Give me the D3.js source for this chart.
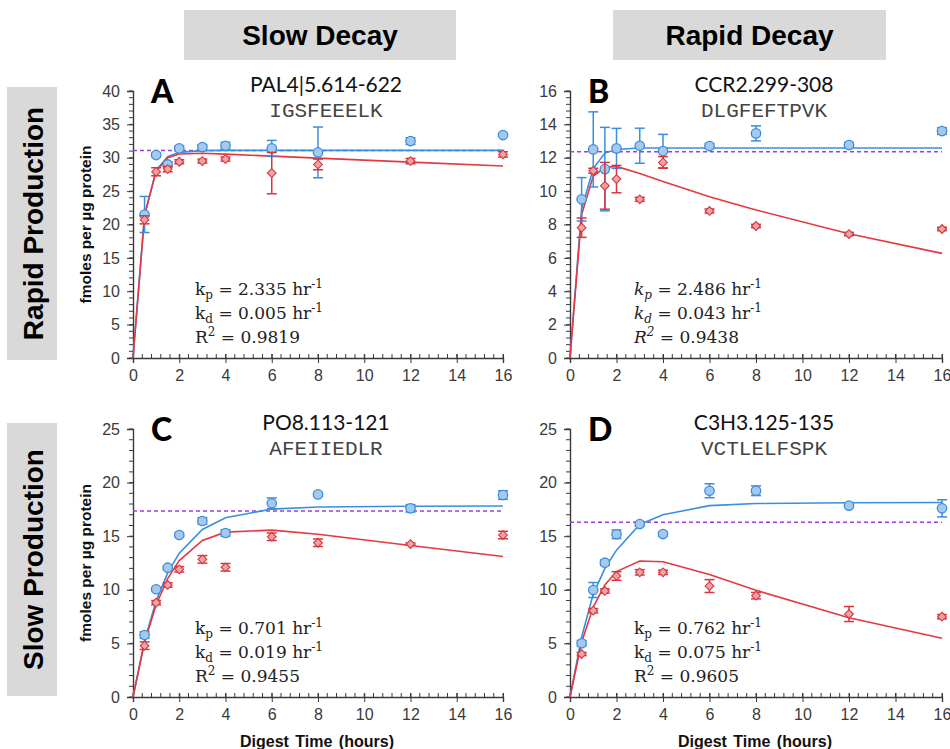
<!DOCTYPE html>
<html>
<head>
<meta charset="utf-8">
<script src="https://cdn.jsdelivr.net/npm/d3@7"></script>
<style>
  body { margin: 0; background: #fff; }
  svg { display: block; }
</style>
</head>
<body>
<svg id="chart" width="950" height="749"></svg>
<script>
// ---- data ----------------------------------------------------------------
const hours = [0.5, 1, 1.5, 2, 3, 4, 6, 8, 12, 16];
const fitHours = [0, 0.5, 1, 1.5, 2, 3, 4, 6, 8, 12, 16];

const panelLetters = ["A", "B", "C", "D"];
const peptideNames = ["PAL4|5.614-622", "CCR2.299-308", "PO8.113-121", "C3H3.125-135"];
const peptideSequences = ["IGSFEEELK", "DLGFEFTPVK", "AFEIIEDLR", "VCTLELFSPK"];
const kpValues = ["2.335", "2.486", "0.701", "0.762"];
const kdValues = ["0.005", "0.043", "0.019", "0.075"];
const r2Values = ["0.9819", "0.9438", "0.9455", "0.9605"];
const yMaxima = [40, 16, 25, 25];
const yMajorSteps = [5, 2, 5, 5];
const plateauLevels = [31.1, 12.36, 17.35, 16.3];
const xTickValues = [0, 2, 4, 6, 8, 10, 12, 14, 16];
const columnHeaders = ["Slow Decay", "Rapid Decay"];
const rowHeaders = ["Rapid Production", "Slow Production"];

// production only (blue circles) and production with decay (red diamonds)
const prodMeanA = [21.5, 30.4, 29.0, 31.4, 31.6, 31.8, 31.4, 30.8, 32.5, 33.4];
const prodErrA  = [2.7, 0.3, 0.4, 0.35, 0.35, 0.5, 1.2, 3.8, 0.5, 0.2];
const measMeanA = [20.7, 27.9, 28.3, 29.4, 29.5, 29.8, 27.7, 29.0, 29.5, 30.5];
const measErrA  = [0.6, 0.6, 0.4, 0.3, 0.3, 0.3, 3.1, 0.8, 0.4, 0.4];
const prodFitA  = [0, 21.42, 28.09, 30.16, 30.81, 31.07, 31.1, 31.1, 31.1, 31.1, 31.1];
const measFitA  = [0, 21.39, 27.99, 30.0, 30.56, 30.67, 30.55, 30.24, 29.95, 29.35, 28.77];

const prodMeanB = [9.51, 12.5, 11.32, 12.56, 12.72, 12.4, 12.7, 13.46, 12.76, 13.6];
const prodErrB  = [1.3, 2.25, 2.5, 1.2, 1.05, 1.0, 0.15, 0.45, 0.15, 0.2];
const measMeanB = [7.81, 11.22, 10.32, 10.72, 9.51, 11.72, 8.81, 7.91, 7.43, 7.73];
const measErrB  = [0.58, 0.15, 1.4, 0.82, 0.12, 0.35, 0.12, 0.1, 0.1, 0.1];
const prodFitB  = [0, 8.95, 11.35, 12.28, 12.49, 12.58, 12.58, 12.58, 12.58, 12.58, 12.58];
const measFitB  = [0, 8.6, 10.9, 11.42, 11.48, 11.05, 10.58, 9.66, 8.87, 7.44, 6.27];

const prodMeanC = [5.78, 10.05, 12.06, 15.11, 16.42, 15.3, 18.07, 18.9, 17.6, 18.84];
const prodErrC  = [0.3, 0.15, 0.15, 0.15, 0.3, 0.3, 0.5, 0.15, 0.35, 0.4];
const measMeanC = [4.79, 8.8, 10.45, 11.91, 12.84, 12.1, 14.95, 14.39, 14.27, 15.11];
const measErrC  = [0.35, 0.2, 0.2, 0.25, 0.35, 0.35, 0.35, 0.35, 0.1, 0.35];
const prodFitC  = [0, 5.26, 8.97, 11.58, 13.42, 15.63, 16.72, 17.53, 17.73, 17.8, 17.82];
const measFitC  = [0, 5.08, 8.61, 11.05, 12.72, 14.6, 15.38, 15.57, 15.18, 14.13, 13.1];

const prodMeanD = [5.01, 9.98, 12.53, 15.18, 16.14, 15.2, 19.24, 19.24, 17.85, 17.6];
const prodErrD  = [0.25, 0.7, 0.25, 0.4, 0.2, 0.2, 0.65, 0.45, 0.15, 0.8];
const measMeanD = [4.01, 8.05, 9.89, 11.29, 11.63, 11.63, 10.35, 9.45, 7.74, 7.49];
const measErrD  = [0.15, 0.2, 0.2, 0.4, 0.25, 0.2, 0.6, 0.3, 0.7, 0.2];
const prodFitD  = [0, 5.6, 9.6, 12.0, 13.7, 16.1, 17.0, 17.85, 18.05, 18.12, 18.15];
const measFitD  = [0, 5.1, 8.39, 10.46, 11.7, 12.68, 12.62, 11.42, 9.95, 7.4, 5.48];

const prodMeans = [prodMeanA, prodMeanB, prodMeanC, prodMeanD];
const prodErrs  = [prodErrA, prodErrB, prodErrC, prodErrD];
const measMeans = [measMeanA, measMeanB, measMeanC, measMeanD];
const measErrs  = [measErrA, measErrB, measErrC, measErrD];
const prodFits  = [prodFitA, prodFitB, prodFitC, prodFitD];
const measFits  = [measFitA, measFitB, measFitC, measFitD];

// ---- layout & style -------------------------------------------------------
const frames = [
  { left: 133, right: 503, top: 91,  bottom: 358 },
  { left: 570, right: 942, top: 91,  bottom: 358 },
  { left: 133, right: 503, top: 429, bottom: 697 },
  { left: 570, right: 942, top: 429, bottom: 697 }
];
const italicStats = [false, true, false, false];

const COL = {
  prodLine: "#3a8ee0", prodFill: "#a6c8ea", prodStroke: "#3a8ee0",
  measLine: "#e4383e", measFill: "#eca4a6", measStroke: "#d8363e",
  plateau: "#9b40d8", axis: "#3a3a3a", tickText: "#3a3a3a", header: "#d9d9d9"
};
const SANS = "'Liberation Sans', Arial, sans-serif";
const SERIF = "'DejaVu Serif', 'Liberation Serif', serif";
const MONO = "'Liberation Mono', 'Courier New', monospace";
const HUMAN = "Lato, 'Open Sans', sans-serif";

const svg = d3.select("#chart");
svg.append("rect").attr("width", 950).attr("height", 749).attr("fill", "#fff");

// column and row headers
const colBoxes = [{ x: 184, w: 272 }, { x: 613, w: 273 }];
columnHeaders.forEach((label, i) => {
  const b = colBoxes[i];
  svg.append("rect").attr("x", b.x).attr("y", 10).attr("width", b.w).attr("height", 50)
    .attr("fill", COL.header);
  svg.append("text").attr("x", b.x + b.w / 2).attr("y", 45)
    .attr("text-anchor", "middle").attr("font-family", SANS).attr("font-weight", "bold")
    .attr("font-size", 28).attr("fill", "#000").text(label);
});
const rowBoxes = [{ y: 87, h: 273 }, { y: 423, h: 273 }];
rowHeaders.forEach((label, i) => {
  const b = rowBoxes[i];
  svg.append("rect").attr("x", 7).attr("y", b.y).attr("width", 50).attr("height", b.h)
    .attr("fill", COL.header);
  svg.append("text")
    .attr("transform", `translate(43,${b.y + b.h / 2}) rotate(-90)`)
    .attr("text-anchor", "middle").attr("font-family", SANS).attr("font-weight", "bold")
    .attr("font-size", 28).attr("fill", "#000").text(label);
});

// ---- panels --------------------------------------------------------------
frames.forEach((f, i) => {
  const x = d3.scaleLinear().domain([0, 16]).range([f.left, f.right]);
  const y = d3.scaleLinear().domain([0, yMaxima[i]]).range([f.bottom, f.top]);
  const g = svg.append("g");

  // minor ticks
  const xMinor = d3.range(0, 16.0001, 0.4);
  g.append("g").selectAll("line").data(xMinor).join("line")
    .attr("x1", d => x(d)).attr("x2", d => x(d))
    .attr("y1", f.bottom - 4).attr("y2", f.bottom)
    .attr("stroke", COL.axis).attr("stroke-width", 1);
  const yMinorStep = yMajorSteps[i] / 5;
  const yMinor = d3.range(0, yMaxima[i] + 1e-6, yMinorStep);
  g.append("g").selectAll("line").data(yMinor).join("line")
    .attr("x1", f.left - 4).attr("x2", f.left)
    .attr("y1", d => y(d)).attr("y2", d => y(d))
    .attr("stroke", COL.axis).attr("stroke-width", 1);

  // major axes
  const xAxis = d3.axisBottom(x).tickValues(xTickValues).tickSize(5).tickPadding(7)
    .tickFormat(d3.format("d"));
  const gx = g.append("g").attr("transform", `translate(0,${f.bottom})`).call(xAxis);
  const yAxis = d3.axisLeft(y).tickValues(d3.range(0, yMaxima[i] + 1e-6, yMajorSteps[i]))
    .tickSize(6).tickPadding(7).tickFormat(d3.format("d"));
  const gy = g.append("g").attr("transform", `translate(${f.left},0)`).call(yAxis);
  [gx, gy].forEach(a => {
    a.select(".domain").attr("stroke", COL.axis).attr("stroke-width", 1.4);
    a.selectAll(".tick line").attr("stroke", COL.axis).attr("stroke-width", 1);
    a.selectAll(".tick text").attr("font-family", SANS).attr("font-size", 16)
      .attr("fill", COL.tickText);
  });
  gx.selectAll(".tick line").attr("y1", -4).attr("y2", 5);

  // plateau reference line
  g.append("line")
    .attr("x1", x(0)).attr("x2", x(16))
    .attr("y1", y(plateauLevels[i])).attr("y2", y(plateauLevels[i]))
    .attr("stroke", COL.plateau).attr("stroke-width", 1.5).attr("stroke-dasharray", "4,3");

  // fitted curves
  const line = d3.line().x(d => x(d[0])).y(d => y(d[1]));
  g.append("path").datum(fitHours.map((h, k) => [h, prodFits[i][k]]))
    .attr("d", line).attr("fill", "none").attr("stroke", COL.prodLine).attr("stroke-width", 1.6);
  g.append("path").datum(fitHours.map((h, k) => [h, measFits[i][k]]))
    .attr("d", line).attr("fill", "none").attr("stroke", COL.measLine).attr("stroke-width", 1.6);

  // error bars
  function errorBars(means, errs, color) {
    const data = hours.map((h, k) => ({ h, m: means[k], e: errs[k] }));
    const eg = g.append("g").attr("stroke", color).attr("stroke-width", 1.5);
    eg.selectAll("line.v").data(data).join("line").attr("class", "v")
      .attr("x1", d => x(d.h)).attr("x2", d => x(d.h))
      .attr("y1", d => y(d.m - d.e)).attr("y2", d => y(d.m + d.e));
    ["lo", "hi"].forEach(side => {
      eg.selectAll("line." + side).data(data).join("line").attr("class", side)
        .attr("x1", d => x(d.h) - 5).attr("x2", d => x(d.h) + 5)
        .attr("y1", d => y(side === "lo" ? d.m - d.e : d.m + d.e))
        .attr("y2", d => y(side === "lo" ? d.m - d.e : d.m + d.e));
    });
  }
  errorBars(prodMeans[i], prodErrs[i], COL.prodStroke);
  g.append("g").selectAll("circle").data(hours.map((h, k) => [h, prodMeans[i][k]])).join("circle")
    .attr("cx", d => x(d[0])).attr("cy", d => y(d[1])).attr("r", 4.7)
    .attr("fill", COL.prodFill).attr("stroke", COL.prodStroke).attr("stroke-width", 1.3);

  errorBars(measMeans[i], measErrs[i], COL.measStroke);
  // square marker turned 45 degrees gives an even diamond
  const diamond = d3.symbol().type(d3.symbolSquare).size(38);
  g.append("g").selectAll("path").data(hours.map((h, k) => [h, measMeans[i][k]])).join("path")
    .attr("transform", d => `translate(${x(d[0])},${y(d[1])}) rotate(45)`).attr("d", diamond)
    .attr("fill", COL.measFill).attr("stroke", COL.measStroke).attr("stroke-width", 1.1);

  // panel letter, peptide name, sequence
  g.append("text").attr("x", f.left + 18).attr("y", f.top + 12)
    .attr("font-family", HUMAN).attr("font-weight", 900).attr("font-size", 32)
    .attr("fill", "#000").text(panelLetters[i]);
  const cx = (f.left + f.right) / 2 + 8;
  g.append("text").attr("x", cx).attr("y", f.top + 1).attr("text-anchor", "middle")
    .attr("font-family", HUMAN).attr("font-size", 21).attr("fill", "#111").text(peptideNames[i]);
  g.append("text").attr("x", cx).attr("y", f.top + 26).attr("text-anchor", "middle")
    .attr("font-family", MONO).attr("font-size", 21).attr("fill", "#444").text(peptideSequences[i]);

  // rate constants and fit quality
  const sx = f.left + 62 + (i % 2 === 1 ? 2 : 0);
  const sy = f.bottom - 63;
  const ital = italicStats[i] ? "italic" : "normal";
  function statLine(row, sym, sub, sup, rest, unit) {
    const t = g.append("text").attr("x", sx).attr("y", sy + row * 24)
      .attr("font-family", SERIF).attr("font-size", 17).attr("fill", "#222");
    t.append("tspan").attr("font-style", ital).text(sym);
    if (sub) {
      t.append("tspan").attr("font-style", ital).attr("font-size", 12).attr("dy", 4).text(sub);
      t.append("tspan").attr("dy", -4).text(" = " + rest);
    } else {
      t.append("tspan").attr("font-style", ital).attr("font-size", 12).attr("dy", -7).text(sup);
      t.append("tspan").attr("dy", 7).text(" = " + rest);
    }
    if (unit) {
      t.append("tspan").text(" hr");
      t.append("tspan").attr("font-size", 12).attr("dy", -7).text("-1");
    }
  }
  statLine(0, "k", "p", null, kpValues[i], true);
  statLine(1, "k", "d", null, kdValues[i], true);
  statLine(2, "R", null, "2", r2Values[i], false);

  // axis titles
  if (i % 2 === 0) {
    g.append("text")
      .attr("transform", `translate(91,${(f.top + f.bottom) / 2}) rotate(-90)`)
      .attr("text-anchor", "middle").attr("font-family", SANS).attr("font-weight", "bold")
      .attr("font-size", 15.5).attr("fill", "#111").text("fmoles per µg protein");
  }
  if (i >= 2) {
    g.append("text").attr("x", (f.left + f.right) / 2 - 1).attr("y", 747)
      .attr("text-anchor", "middle").attr("font-family", SANS).attr("font-weight", "bold")
      .attr("font-size", 16).attr("word-spacing", 2).attr("fill", "#111").text("Digest Time (hours)");
  }
});
</script>
</body>
</html>
